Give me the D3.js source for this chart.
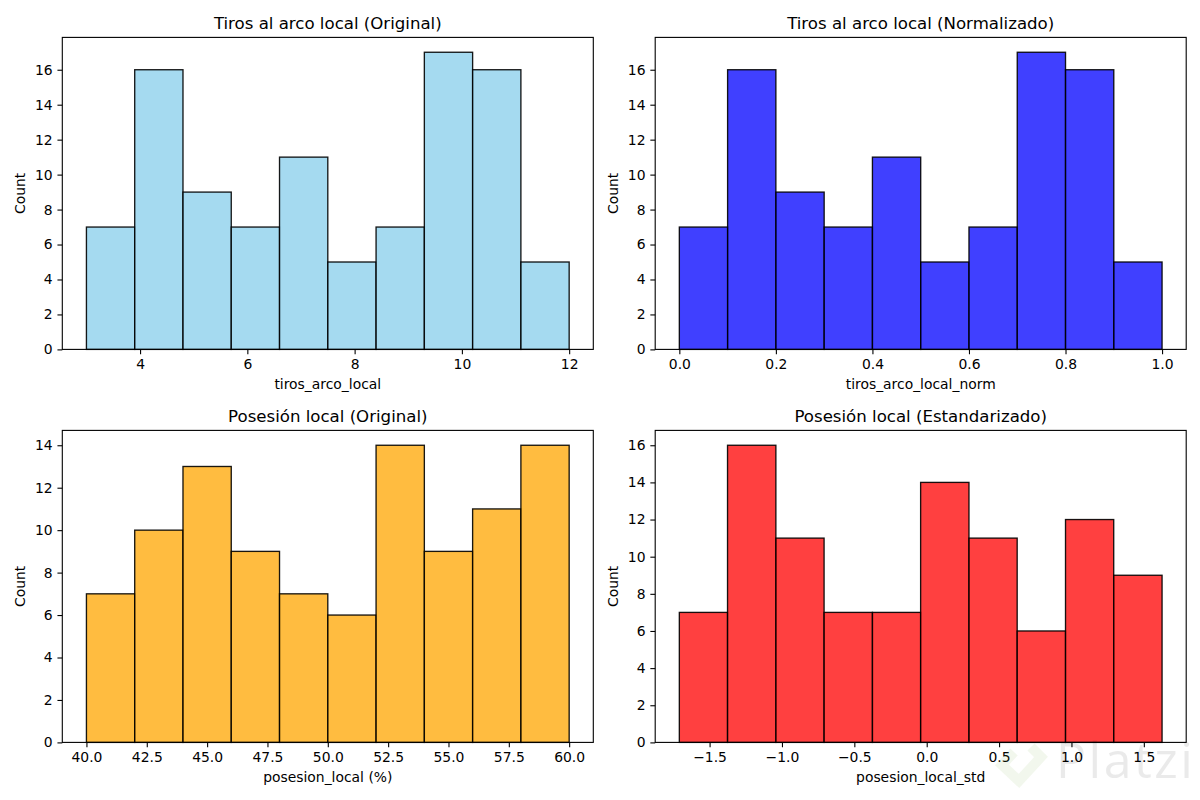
<!DOCTYPE html>
<html>
<head>
<meta charset="utf-8">
<script src="https://cdn.jsdelivr.net/npm/d3@7"></script>
<style>
    html, body { margin: 0; padding: 0; background: #fff; }
    svg { display: block; }
    text { font-family: "DejaVu Sans", sans-serif; fill: #000; }
</style>
</head>
<body>
<svg width="1200" height="800"></svg>
<script>
// Bin edges
const tirosEdges = [3, 3.9, 4.8, 5.7, 6.6, 7.5, 8.4, 9.3, 10.2, 11.1, 12];
const tirosNormEdges = [0, 0.1, 0.2, 0.3, 0.4, 0.5, 0.6, 0.7, 0.8, 0.9, 1];
const posesionEdges = [40, 42, 44, 46, 48, 50, 52, 54, 56, 58, 60];
const posesionStdEdges = [-1.709, -1.376, -1.042, -0.709, -0.375, -0.042, 0.292, 0.625, 0.959, 1.292, 1.626];

// Counts per bin
const tirosCounts = [7, 16, 9, 7, 11, 5, 7, 17, 16, 5];
const tirosNormCounts = [7, 16, 9, 7, 11, 5, 7, 17, 16, 5];
const posesionCounts = [7, 10, 13, 9, 7, 6, 14, 9, 11, 14];
const posesionStdCounts = [7, 16, 11, 7, 7, 14, 11, 6, 12, 9];

// Tick labels
const tirosTicks = [4, 6, 8, 10, 12];
const tirosNormTicks = [0, 0.2, 0.4, 0.6, 0.8, 1];
const posesionTicks = [40, 42.5, 45, 47.5, 50, 52.5, 55, 57.5, 60];
const posesionStdTicks = [-1.5, -1, -0.5, 0, 0.5, 1, 1.5];
const countTicksHigh = [0, 2, 4, 6, 8, 10, 12, 14, 16];
const countTicksLow = [0, 2, 4, 6, 8, 10, 12, 14];

const panels = [
    { title: 'Tiros al arco local (Original)', xLabel: 'tiros_arco_local', edges: tirosEdges, counts: tirosCounts,
      xTicks: tirosTicks, yTicks: countTicksHigh, color: 'skyblue', digits: 0, left: 62.3, top: 37.4 },
    { title: 'Tiros al arco local (Normalizado)', xLabel: 'tiros_arco_local_norm', edges: tirosNormEdges, counts: tirosNormCounts,
      xTicks: tirosNormTicks, yTicks: countTicksHigh, color: 'blue', digits: 1, left: 655.2, top: 37.4 },
    { title: 'Posesión local (Original)', xLabel: 'posesion_local (%)', edges: posesionEdges, counts: posesionCounts,
      xTicks: posesionTicks, yTicks: countTicksLow, color: 'orange', digits: 1, left: 62.3, top: 430.4 },
    { title: 'Posesión local (Estandarizado)', xLabel: 'posesion_local_std', edges: posesionStdEdges, counts: posesionStdCounts,
      xTicks: posesionStdTicks, yTicks: countTicksHigh, color: 'red', digits: 1, left: 655.2, top: 430.4 }
];

const svg = d3.select('svg');
const innerWidth = 531;
const innerHeight = 312;

const drawPanel = (p) => {
    const g = svg.append('g').attr('transform', `translate(${p.left},${p.top})`);

    // Same 5% padding matplotlib puts around the data
    const lo = p.edges[0];
    const hi = p.edges[p.edges.length - 1];
    const pad = (hi - lo) * 0.05;
    const xScale = d3.scaleLinear().domain([lo - pad, hi + pad]).range([0, innerWidth]);
    const yScale = d3.scaleLinear().domain([0, d3.max(p.counts) * 1.05]).range([innerHeight, 0]);

    g.selectAll('rect.bar')
        .data(p.counts)
        .join('rect')
        .attr('class', 'bar')
        .attr('x', (d, i) => xScale(p.edges[i]))
        .attr('y', d => yScale(d))
        .attr('width', (d, i) => xScale(p.edges[i + 1]) - xScale(p.edges[i]))
        .attr('height', d => innerHeight - yScale(d))
        .attr('fill', p.color)
        .attr('fill-opacity', 0.75)
        .attr('stroke', '#000')
        .attr('stroke-opacity', 0.9)
        .attr('stroke-width', 1.35);

    const xAxis = d3.axisBottom(xScale)
        .tickValues(p.xTicks)
        .tickSizeOuter(0)
        .tickSize(4.86)
        .tickPadding(4.86)
        .tickFormat(d => d3.format(`.${p.digits}f`)(d).replace('-', '\u2212'));
    const yAxis = d3.axisLeft(yScale)
        .tickValues(p.yTicks)
        .tickSizeOuter(0)
        .tickSize(4.86)
        .tickPadding(4.86)
        .tickFormat(d3.format('d'));

    const xG = g.append('g').attr('transform', `translate(0,${innerHeight})`).call(xAxis);
    const yG = g.append('g').call(yAxis);
    [xG, yG].forEach(a => {
        a.select('.domain').remove();
        a.selectAll('line').attr('stroke', '#000').attr('stroke-width', 1.1);
        a.selectAll('text').style('font-family', '"DejaVu Sans", sans-serif').style('font-size', '13.9px').attr('fill', '#000');
    });

    // Frame
    g.append('rect')
        .attr('width', innerWidth)
        .attr('height', innerHeight)
        .attr('fill', 'none')
        .attr('stroke', '#000')
        .attr('stroke-width', 1.1);

    g.append('text')
        .attr('x', innerWidth / 2)
        .attr('y', -8)
        .attr('text-anchor', 'middle')
        .style('font-size', '16.6px')
        .text(p.title);

    g.append('text')
        .attr('x', innerWidth / 2)
        .attr('y', innerHeight + 40)
        .attr('text-anchor', 'middle')
        .style('font-size', '13.9px')
        .text(p.xLabel);

    g.append('text')
        .attr('transform', `translate(-37,${innerHeight / 2}) rotate(-90)`)
        .attr('text-anchor', 'middle')
        .style('font-size', '13.9px')
        .text('Count');
};

panels.forEach(drawPanel);

// Watermark in the bottom right corner
const mark = svg.append('g').attr('pointer-events', 'none');
mark.append('path')
    .attr('d', 'M1031 747 L1041 757 L1019 781 L1002 765 L1014 752')
    .attr('fill', 'none')
    .attr('stroke', '#7fb54a')
    .attr('stroke-width', 10)
    .attr('opacity', 0.1);
mark.append('text')
    .attr('x', 1056)
    .attr('y', 778)
    .style('font-size', '50px')
    .style('letter-spacing', '2.5px')
    .style('font-family', '"Open Sans", sans-serif')
    .style('fill', '#000')
    .attr('opacity', 0.08)
    .text('Platzi');
</script>
</body>
</html>
